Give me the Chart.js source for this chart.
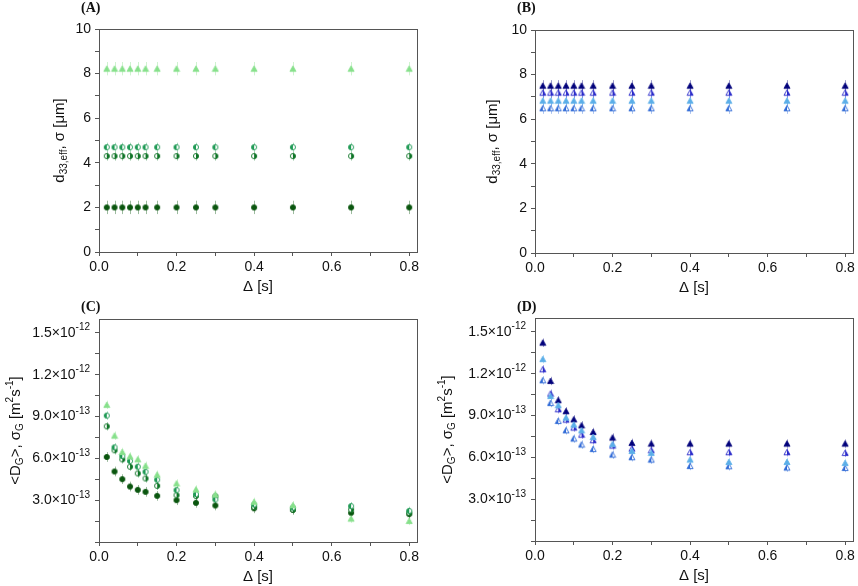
<!DOCTYPE html>
<html>
<head>
<meta charset="utf-8">
<script src="https://cdn.jsdelivr.net/npm/chart.js@4.4.0/dist/chart.umd.min.js"></script>
<style>
html, body { margin: 0; padding: 0; background: #fff; }
#wrap { position: relative; width: 858px; height: 586px; }
#wrap canvas { position: absolute; left: 0; top: 0; }
</style>
</head>
<body>
<div id="wrap">
  <canvas id="pA" width="858" height="586"></canvas>
  <canvas id="pB" width="858" height="586"></canvas>
  <canvas id="pC" width="858" height="586"></canvas>
  <canvas id="pD" width="858" height="586"></canvas>
</div>
<script>
// diffusion time Δ [s], same for every series
const delta = [0.02, 0.04, 0.06, 0.08, 0.10, 0.12, 0.15, 0.20, 0.25, 0.30, 0.40, 0.50, 0.65, 0.80];

// (A) d33,eff / sigma, green samples [µm]
const aTri   = [8.22, 8.22, 8.22, 8.22, 8.22, 8.22, 8.22, 8.22, 8.22, 8.22, 8.22, 8.22, 8.22, 8.22];
const aHalfL = [4.70, 4.70, 4.70, 4.70, 4.70, 4.70, 4.70, 4.70, 4.70, 4.70, 4.70, 4.70, 4.70, 4.70];
const aHalfR = [4.30, 4.30, 4.30, 4.30, 4.30, 4.30, 4.30, 4.30, 4.30, 4.30, 4.30, 4.30, 4.30, 4.30];
const aFill  = [2.00, 2.00, 2.00, 2.00, 2.00, 2.00, 2.00, 2.00, 2.00, 2.00, 2.00, 2.00, 2.00, 2.00];
const aErr   = [0.3, 0.2, 0.2, 0.3];

// (B) d33,eff / sigma, blue samples [µm]
const bTri   = [7.50, 7.50, 7.50, 7.50, 7.50, 7.50, 7.50, 7.50, 7.50, 7.50, 7.50, 7.50, 7.50, 7.50];
const bHalfR = [7.19, 7.19, 7.19, 7.19, 7.19, 7.19, 7.19, 7.19, 7.19, 7.19, 7.19, 7.19, 7.19, 7.19];
const bLight = [6.83, 6.83, 6.83, 6.83, 6.83, 6.83, 6.83, 6.83, 6.83, 6.83, 6.83, 6.83, 6.83, 6.83];
const bHalfL = [6.49, 6.49, 6.49, 6.49, 6.49, 6.49, 6.49, 6.49, 6.49, 6.49, 6.49, 6.49, 6.49, 6.49];
const bErr   = [0.25, 0.25, 0.25, 0.25];

// (C) <DG>, sigmaG, green samples, in units of 1e-13 m^2/s
const cTri   = [9.84, 7.63, 6.46, 6.14, 5.93, 5.47, 4.83, 4.20, 3.77, 3.41, 2.88, 2.64, 1.68, 1.51];
const cHalfL = [9.07, 6.79, 6.17, 5.81, 5.40, 5.04, 4.47, 3.72, 3.43, 3.05, 2.69, 2.47, 2.57, 2.23];
const cHalfR = [8.30, 6.58, 5.93, 5.40, 4.92, 4.56, 4.03, 3.36, 3.30, 3.28, 2.52, 2.33, 2.33, 2.10];
const cFill  = [6.10, 5.06, 4.51, 3.98, 3.74, 3.60, 3.31, 3.00, 2.81, 2.62, 2.42, 2.30, 2.09, 2.00];
const cErr   = [0.3, 0.3, 0.3, 0.35];

// (D) <DG>, sigmaG, blue samples, in units of 1e-13 m^2/s
const dTri   = [14.23, 11.48, 10.10, 9.31, 8.73, 8.30, 7.82, 7.42, 7.04, 6.99, 6.99, 6.99, 6.99, 6.99];
const dHalfR = [12.32, 10.57, 9.45, 8.71, 8.14, 7.63, 7.23, 6.85, 6.63, 6.51, 6.37, 6.37, 6.37, 6.32];
const dLight = [13.05, 10.40, 9.74, 8.85, 8.35, 7.94, 7.46, 6.95, 6.46, 6.32, 5.84, 5.67, 5.67, 5.60];
const dHalfL = [11.53, 9.90, 8.61, 7.94, 7.35, 6.92, 6.60, 6.20, 6.01, 5.84, 5.38, 5.36, 5.27, 5.24];
const dErr   = [0.3, 0.3, 0.3, 0.3];

const greens = ['#86e08a', '#1f9a55', '#0d7426', '#0a560f'];
const blues  = ['#00007a', '#2626c8', '#5aaee8', '#2d68d6'];

const SANS = '"Liberation Sans", Arial, sans-serif';

function marker(shape, color, fill) {
  const c = document.createElement('canvas');
  c.width = 8; c.height = 8;
  const g = c.getContext('2d');
  const path = () => {
    g.beginPath();
    if (shape === 'tri') { g.moveTo(4, 1.2); g.lineTo(7, 6.6); g.lineTo(1, 6.6); g.closePath(); }
    else g.arc(4, 4, 2.6, 0, Math.PI * 2);
  };
  path(); g.fillStyle = '#fff'; g.fill();
  g.save(); path(); g.clip();
  g.fillStyle = color;
  if (fill === 'full') g.fillRect(0, 0, 8, 8);
  else if (fill === 'left') g.fillRect(0, 0, 4, 8);
  else g.fillRect(4, 0, 4, 8);
  g.restore();
  path(); g.strokeStyle = color; g.lineWidth = 0.9; g.stroke();
  return c;
}

function series(ys, color, style, err) {
  return {
    data: delta.map((x, i) => ({ x: x, y: ys[i] })),
    pointStyle: style,
    pointRadius: 3,
    errBar: err,
    errColor: color
  };
}

// text with sub/superscript runs: [text, 0 normal | 1 sub | 2 sup]
function runsWidth(ctx, runs, size, small) {
  let w = 0;
  runs.forEach(r => { ctx.font = (r[1] ? small : size) + 'px ' + SANS; w += ctx.measureText(r[0]).width; });
  return w;
}
function drawRuns(ctx, runs, x0, size, small) {
  let cx = x0;
  runs.forEach(r => {
    ctx.font = (r[1] ? small : size) + 'px ' + SANS;
    const dy = r[1] === 1 ? size * 0.3 : r[1] === 2 ? -size * 0.38 : 0;
    ctx.fillText(r[0], cx, dy);
    cx += ctx.measureText(r[0]).width;
  });
}
function richTitle(ctx, runs, x, y, size) {
  const small = Math.round(size * 0.68);
  const w = runsWidth(ctx, runs, size, small);
  ctx.save();
  ctx.translate(x, y);
  ctx.rotate(-Math.PI / 2);
  ctx.fillStyle = '#111';
  ctx.textBaseline = 'middle';
  ctx.textAlign = 'left';
  drawRuns(ctx, runs, -w / 2, size, small);
  ctx.restore();
}

const errPlugin = {
  id: 'errPlugin',
  beforeDatasetsDraw(chart) {
    const ctx = chart.ctx, ys = chart.scales.y;
    ctx.save();
    ctx.lineWidth = 1;
    chart.data.datasets.forEach((ds, i) => {
      const meta = chart.getDatasetMeta(i);
      ctx.strokeStyle = ds.errColor;
      ctx.globalAlpha = 0.4;
      meta.data.forEach((pt, j) => {
        const v = ds.data[j].y;
        const y1 = ys.getPixelForValue(v - ds.errBar);
        const y2 = ys.getPixelForValue(v + ds.errBar);
        ctx.beginPath();
        ctx.moveTo(Math.round(pt.x) + 0.5, y1);
        ctx.lineTo(Math.round(pt.x) + 0.5, y2);
        ctx.stroke();
      });
    });
    ctx.restore();
  }
};

// exponent tick labels: value in 1e-13 units -> [mantissa, exponent]
function expParts(v) {
  const k = Math.round(v / 1.5);
  if (k === 0 || k % 2) return null;
  if (v >= 10) return [(v / 10).toFixed(1), '-12'];
  return [v.toFixed(1), '-13'];
}

const decoPlugin = {
  id: 'panelDeco',
  afterDraw(chart, args, o) {
    const ctx = chart.ctx, a = chart.chartArea;
    ctx.save();
    ctx.strokeStyle = '#555';
    ctx.lineWidth = 1;
    ctx.strokeRect(Math.round(a.left) + 0.5, Math.round(a.top) + 0.5,
                   Math.round(a.right - a.left), Math.round(a.bottom - a.top));
    ctx.fillStyle = '#111';
    ctx.font = 'bold 14px "Liberation Serif", "Times New Roman", serif';
    ctx.textBaseline = 'middle';
    ctx.textAlign = 'left';
    ctx.fillText(o.label, o.labelX, o.labelY);
    ctx.font = '15px ' + SANS;
    ctx.textAlign = 'center';
    ctx.fillText('Δ [s]', (a.left + a.right) / 2, a.bottom + 35);
    if (o.expTicks) {
      const ys = chart.scales.y;
      ctx.textAlign = 'left';
      ys.ticks.forEach(t => {
        const p = expParts(t.value);
        if (!p) return;
        const runs = [[p[0] + '×10', 0], [p[1], 2]];
        const w = runsWidth(ctx, runs, 14, 10);
        ctx.save();
        ctx.translate(0, ys.getPixelForValue(t.value));
        drawRuns(ctx, runs, a.left - 9 - w, 14, 10);
        ctx.restore();
      });
    }
    ctx.restore();
    richTitle(ctx, o.yTitle, o.yTitleX, (a.top + a.bottom) / 2, 15);
  }
};

const tickFont = { family: SANS, size: 14 };

function evenLabel(v) {
  return Math.round(v) % 2 === 0 ? String(Math.round(v)) : '';
}
function expLabel(v) {
  const p = expParts(v);
  return p ? p[0] + '×10^' + p[1] : '';
}

function panel(id, box, yMax, yStep, yLabel, datasets, deco) {
  // y-axis box is 70px wide so its tick labels are not clipped
  new Chart(document.getElementById(id), {
    type: 'scatter',
    data: { datasets: datasets },
    options: {
      responsive: false,
      animation: false,
      events: [],
      layout: { padding: { left: box[0] - 70, top: box[1], right: 858 - box[2], bottom: 586 - box[3] - 22 } },
      plugins: { legend: { display: false }, tooltip: { enabled: false }, panelDeco: deco },
      scales: {
        x: {
          type: 'linear', min: 0, max: 0.82,
          afterFit: s => { s.height = 22; },
          ticks: {
            stepSize: 0.1, includeBounds: false, autoSkip: false, maxRotation: 0,
            padding: 3, color: '#111', font: tickFont,
            callback: v => Math.round(v * 10) % 2 === 0 ? v.toFixed(1) : ''
          },
          grid: { drawOnChartArea: false, tickLength: 4, color: '#555' },
          border: { color: '#555' }
        },
        y: {
          type: 'linear', min: 0, max: yMax,
          afterFit: s => { s.width = 70; },
          ticks: {
            display: !deco.expTicks,
            stepSize: yStep, includeBounds: false, autoSkip: false,
            padding: 4, color: '#111', font: tickFont, callback: yLabel
          },
          grid: { drawOnChartArea: false, tickLength: 4, color: '#555' },
          border: { color: '#555' }
        }
      }
    },
    plugins: [errPlugin, decoPlugin]
  });
}

const dTitle = [['d', 0], ['33,eff', 1], [', σ [μm]', 0]];
const gTitle = [['<D', 0], ['G', 1], ['>, σ', 0], ['G', 1], [' [m', 0], ['2', 2], ['s', 0], ['-1', 2], [']', 0]];

panel('pA', [99, 29, 417, 252], 10, 1, evenLabel, [
  series(aTri,   greens[0], marker('tri', greens[0], 'full'),  aErr[0]),
  series(aHalfL, greens[1], marker('circ', greens[1], 'left'), aErr[1]),
  series(aHalfR, greens[2], marker('circ', greens[2], 'right'), aErr[2]),
  series(aFill,  greens[3], marker('circ', greens[3], 'full'), aErr[3])
], { label: '(A)', labelX: 81, labelY: 8, yTitle: dTitle, yTitleX: 60 });

panel('pB', [535, 30, 853, 253], 10, 1, evenLabel, [
  series(bLight, blues[2], marker('tri', blues[2], 'full'),  bErr[2]),
  series(bHalfL, blues[3], marker('tri', blues[3], 'left'),  bErr[3]),
  series(bHalfR, blues[1], marker('tri', blues[1], 'right'), bErr[1]),
  series(bTri,   blues[0], marker('tri', blues[0], 'full'),  bErr[0])
], { label: '(B)', labelX: 517, labelY: 8, yTitle: dTitle, yTitleX: 493 });

panel('pC', [99, 319, 417, 542], 16, 1.5, expLabel, [
  series(cTri,   greens[0], marker('tri', greens[0], 'full'),  cErr[0]),
  series(cHalfL, greens[1], marker('circ', greens[1], 'left'), cErr[1]),
  series(cHalfR, greens[2], marker('circ', greens[2], 'right'), cErr[2]),
  series(cFill,  greens[3], marker('circ', greens[3], 'full'), cErr[3])
], { label: '(C)', labelX: 81, labelY: 307, yTitle: gTitle, yTitleX: 16, expTicks: true });

panel('pD', [535, 318, 853, 541], 16, 1.5, expLabel, [
  series(dLight, blues[2], marker('tri', blues[2], 'full'),  dErr[2]),
  series(dHalfL, blues[3], marker('tri', blues[3], 'left'),  dErr[3]),
  series(dHalfR, blues[1], marker('tri', blues[1], 'right'), dErr[1]),
  series(dTri,   blues[0], marker('tri', blues[0], 'full'),  dErr[0])
], { label: '(D)', labelX: 517, labelY: 307, yTitle: gTitle, yTitleX: 448, expTicks: true });
</script>
</body>
</html>
